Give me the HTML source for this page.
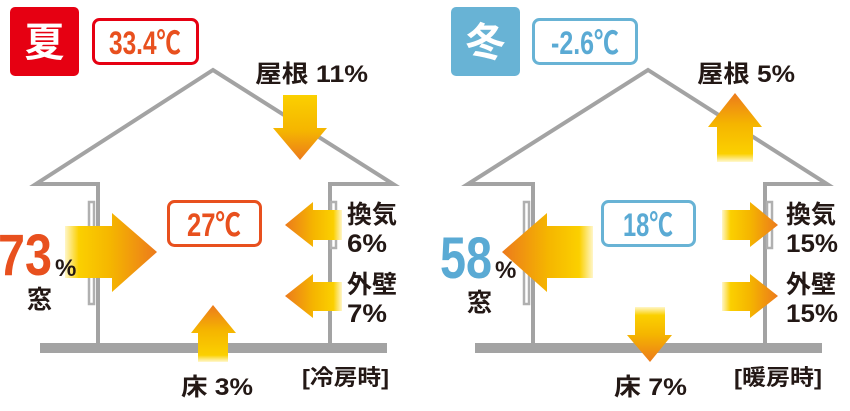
<!DOCTYPE html>
<html><head><meta charset="utf-8"><style>
html,body{margin:0;padding:0;background:#fff;}
svg{display:block;}
text{font-family:"Liberation Sans","Noto Sans CJK JP",sans-serif;font-weight:bold;}
</style></head><body>
<svg width="850" height="411" viewBox="0 0 850 411" xmlns="http://www.w3.org/2000/svg">
<defs>
<linearGradient id="gDown" x1="0" y1="0" x2="0" y2="1"><stop offset="0" stop-color="#fbd000"/><stop offset="0.55" stop-color="#f5b500"/><stop offset="1" stop-color="#ec7a1c"/></linearGradient>
<linearGradient id="gUp" x1="0" y1="1" x2="0" y2="0"><stop offset="0" stop-color="#fff8d0"/><stop offset="0.12" stop-color="#fbd000"/><stop offset="0.55" stop-color="#f5b500"/><stop offset="1" stop-color="#ec7a1c"/></linearGradient>
<linearGradient id="gRight" x1="0" y1="0" x2="1" y2="0"><stop offset="0" stop-color="#fff6c8"/><stop offset="0.15" stop-color="#fbd000"/><stop offset="0.5" stop-color="#f5b500"/><stop offset="1" stop-color="#ec7a1c"/></linearGradient>
<linearGradient id="gLeft" x1="1" y1="0" x2="0" y2="0"><stop offset="0" stop-color="#fff6c8"/><stop offset="0.15" stop-color="#fbd000"/><stop offset="0.5" stop-color="#f5b500"/><stop offset="1" stop-color="#ec7a1c"/></linearGradient>
<linearGradient id="gDown2" x1="0" y1="0" x2="0" y2="1"><stop offset="0" stop-color="#fff6c8"/><stop offset="0.15" stop-color="#fbd000"/><stop offset="0.5" stop-color="#f5b500"/><stop offset="1" stop-color="#ec7a1c"/></linearGradient>
</defs>

<!-- LEFT HOUSE -->
<g fill="none" stroke="#a3a3a3" stroke-width="4">
<polyline points="98,343 98,184 36,184 213,70 393,184 330,184 330,343"/>
<rect x="89" y="202" width="5" height="102" stroke-width="2.5" stroke="#b0b0b0"/>
<rect x="331" y="202" width="5" height="46" stroke-width="2.5" stroke="#b0b0b0"/>
</g>
<rect x="40" y="343" width="347" height="10" fill="#a3a3a3"/>

<rect x="10" y="7" width="69" height="69" rx="5" fill="#e60012"/>
<text x="44.5" y="56" font-size="40" fill="#fff" text-anchor="middle">夏</text>
<rect x="93.5" y="19.5" width="104" height="44" rx="6" fill="#fff" stroke="#e60012" stroke-width="3"/>
<text x="109" y="54" font-size="32" fill="#e8501e" font-weight="normal" textLength="72" lengthAdjust="spacingAndGlyphs">33.4℃</text>

<text x="255" y="82" font-size="24" fill="#231815" textLength="113" lengthAdjust="spacingAndGlyphs">屋根 11%</text>
<polygon points="283,95 317,95 317,128 327,128 300,160 273,128 283,128" fill="url(#gDown)"/>

<polygon points="65,226 112,226 112,213 157,252 112,292 112,278 65,278" fill="url(#gRight)"/>
<text x="-2" y="275" font-size="58" fill="#e8501e" textLength="54" lengthAdjust="spacingAndGlyphs">73</text>
<text x="55" y="276" font-size="24" fill="#231815">%</text>
<text x="27" y="308" font-size="25" fill="#231815">窓</text>

<rect x="168.5" y="201.5" width="92" height="44" rx="6" fill="#fff" stroke="#e8501e" stroke-width="3"/>
<text x="187" y="236" font-size="32" fill="#e8501e" font-weight="normal" textLength="54" lengthAdjust="spacingAndGlyphs">27℃</text>

<polygon points="342,210 313,210 313,202 285,225 313,247 313,240 342,240" fill="url(#gLeft)"/>
<polygon points="342,282 313,282 313,274 285,296 313,318 313,311 342,311" fill="url(#gLeft)"/>
<text x="347" y="223" font-size="25" fill="#231815" textLength="50" lengthAdjust="spacingAndGlyphs">換気</text>
<text x="347" y="252" font-size="25" fill="#231815" textLength="40" lengthAdjust="spacingAndGlyphs">6%</text>
<text x="347" y="293" font-size="25" fill="#231815" textLength="50" lengthAdjust="spacingAndGlyphs">外壁</text>
<text x="347" y="322" font-size="25" fill="#231815" textLength="40" lengthAdjust="spacingAndGlyphs">7%</text>

<polygon points="198,362 228,362 228,333 236,333 213,305 191,333 198,333" fill="url(#gUp)"/>
<text x="181" y="395" font-size="24" fill="#231815" textLength="72" lengthAdjust="spacingAndGlyphs">床 3%</text>
<text x="302" y="385" font-size="22" fill="#231815" font-weight="normal" textLength="87" lengthAdjust="spacingAndGlyphs">[冷房時]</text>

<!-- RIGHT HOUSE -->
<g fill="none" stroke="#a3a3a3" stroke-width="4">
<polyline points="533,343 533,184 468,184 648,70 827,184 765,184 765,343"/>
<rect x="524" y="202" width="5" height="102" stroke-width="2.5" stroke="#b0b0b0"/>
<rect x="767" y="202" width="5" height="46" stroke-width="2.5" stroke="#b0b0b0"/>
</g>
<rect x="475" y="343" width="347" height="10" fill="#a3a3a3"/>

<rect x="451" y="7" width="69" height="69" rx="5" fill="#68b3d5"/>
<text x="485.5" y="56" font-size="40" fill="#fff" text-anchor="middle">冬</text>
<rect x="533.5" y="19.5" width="103" height="44" rx="6" fill="#fff" stroke="#68b3d5" stroke-width="3"/>
<text x="551" y="54" font-size="32" fill="#5aaad4" font-weight="normal" textLength="68" lengthAdjust="spacingAndGlyphs">-2.6℃</text>

<text x="697" y="82" font-size="24" fill="#231815" textLength="98" lengthAdjust="spacingAndGlyphs">屋根 5%</text>
<polygon points="717,162 753,162 753,127 762,127 735,93 708,127 717,127" fill="url(#gUp)"/>

<polygon points="593,226 547,226 547,213 502,252 547,292 547,278 593,278" fill="url(#gLeft)"/>
<text x="440" y="278" font-size="58" fill="#5aaad4" textLength="52" lengthAdjust="spacingAndGlyphs">58</text>
<text x="495" y="278" font-size="24" fill="#231815">%</text>
<text x="467" y="311" font-size="25" fill="#231815">窓</text>

<rect x="602.5" y="201.5" width="92" height="44" rx="6" fill="#fff" stroke="#68b3d5" stroke-width="3"/>
<text x="623" y="236" font-size="32" fill="#5aaad4" font-weight="normal" textLength="50" lengthAdjust="spacingAndGlyphs">18℃</text>

<polygon points="722,210 750,210 750,202 778,225 750,247 750,240 722,240" fill="url(#gRight)"/>
<polygon points="722,282 750,282 750,274 778,296 750,318 750,311 722,311" fill="url(#gRight)"/>
<text x="786" y="223" font-size="25" fill="#231815" textLength="50" lengthAdjust="spacingAndGlyphs">換気</text>
<text x="786" y="252" font-size="25" fill="#231815" textLength="52" lengthAdjust="spacingAndGlyphs">15%</text>
<text x="786" y="293" font-size="25" fill="#231815" textLength="50" lengthAdjust="spacingAndGlyphs">外壁</text>
<text x="786" y="322" font-size="25" fill="#231815" textLength="52" lengthAdjust="spacingAndGlyphs">15%</text>

<polygon points="635,307 665,307 665,335 672,335 650,362 627,335 635,335" fill="url(#gDown2)"/>
<text x="614" y="395" font-size="24" fill="#231815" textLength="73" lengthAdjust="spacingAndGlyphs">床 7%</text>
<text x="734" y="385" font-size="22" fill="#231815" font-weight="normal" textLength="88" lengthAdjust="spacingAndGlyphs">[暖房時]</text>
</svg>
</body></html>
